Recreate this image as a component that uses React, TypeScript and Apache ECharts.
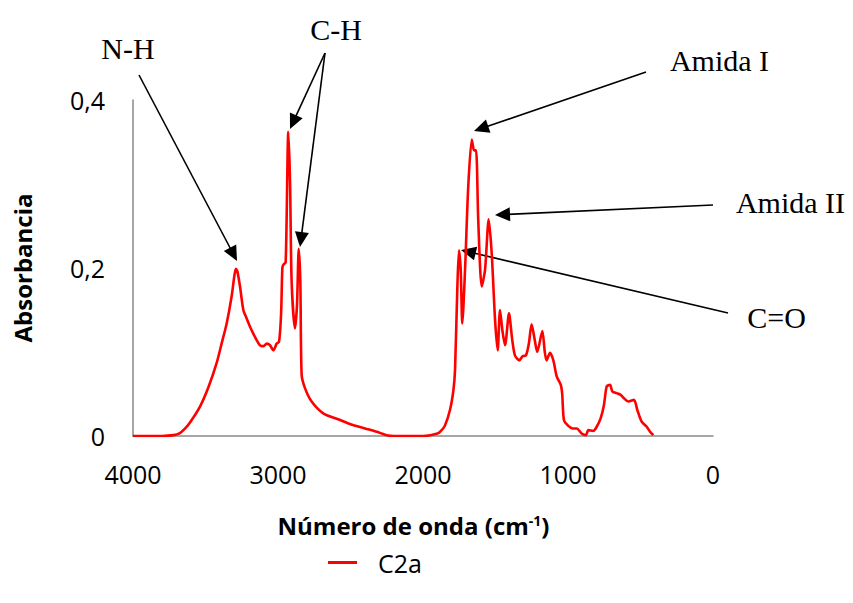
import React, { useEffect, useRef } from "react";
import * as echarts from "echarts";

const SERIES_NAME = "C2a";
const X_TITLE_MAIN = "Número de onda (cm";
const X_TITLE_SUP = "-1";
const Y_TITLE = "Absorbancia";

const WAVENUMBER = [
  4000, 3900, 3800, 3720, 3680, 3640, 3607, 3538, 3480, 3423, 3389, 3354, 3320, 3300, 3290, 3280, 3262,
  3239, 3216, 3193, 3159, 3124, 3100, 3078, 3055, 3032, 3009, 2993, 2979, 2970, 2963, 2947, 2929, 2917, 2906,
  2883, 2869, 2857, 2846, 2837, 2814, 2768, 2688, 2572, 2500, 2400, 2300, 2250, 2200, 2100, 2000, 1950, 1900,
  1883, 1850, 1814, 1790, 1779, 1763, 1752, 1740, 1729, 1710, 1688, 1664, 1655, 1648, 1634, 1619, 1595, 1572,
  1547, 1526, 1503, 1485, 1469, 1452, 1434, 1407, 1385, 1366, 1336, 1313, 1290, 1270, 1251, 1230, 1212, 1177,
  1160, 1148, 1124, 1101, 1078, 1050, 1040, 1028, 998, 968, 940, 906, 876, 860, 826, 802, 775, 752, 733, 710,
  694, 664, 637, 614, 584, 545, 522, 492, 457, 434, 411,
];

const ABSORBANCE = [
  0.0, 0.0, 0.0, 0.001, 0.003, 0.009, 0.016, 0.035, 0.058, 0.087, 0.11, 0.134, 0.166, 0.192, 0.199, 0.196, 0.178,
  0.15, 0.14, 0.13, 0.118, 0.108, 0.107, 0.11, 0.108, 0.102, 0.11, 0.112, 0.144, 0.2, 0.204, 0.207, 0.362, 0.303, 0.184,
  0.128, 0.156, 0.223, 0.184, 0.073, 0.057, 0.041, 0.027, 0.019, 0.014, 0.009, 0.004, 0.001, 0.0, 0.0, 0.0, 0.001, 0.003,
  0.005, 0.012, 0.031, 0.055, 0.079, 0.178, 0.221, 0.198, 0.134, 0.198, 0.297, 0.353, 0.345, 0.34, 0.34, 0.257, 0.178, 0.198,
  0.258, 0.217, 0.138, 0.102, 0.15, 0.125, 0.108, 0.146, 0.115, 0.096, 0.09, 0.095, 0.096, 0.11, 0.133, 0.115, 0.1, 0.125,
  0.1, 0.09, 0.099, 0.09, 0.071, 0.061, 0.05, 0.019, 0.012, 0.009, 0.009, 0.003, 0.001, 0.007, 0.006, 0.011, 0.021, 0.037, 0.059, 0.061,
  0.053, 0.051, 0.049, 0.045, 0.041, 0.043, 0.031, 0.017, 0.011, 0.005, 0.001,
];

// Annotation labels (text, centre position in px)
const ANNOTATIONS = [
  { text: "N-H", x: 128, y: 48.5 },
  { text: "C-H", x: 336, y: 29 },
  { text: "Amida I", x: 719.5, y: 60 },
  { text: "Amida II", x: 790.5, y: 202 },
  { text: "C=O", x: 776.5, y: 317 },
];

// Arrow segments [x1, y1, tipX, tipY] in px
const ARROWS = [
  [139, 75, 237, 261],
  [325, 53, 290, 129],
  [325, 53, 300, 247],
  [646, 72, 474, 131],
  [713, 205, 495, 215],
  [728, 313, 461, 250],
];

function arrowGraphics(a: number[]) {
  const [x1, y1, x2, y2] = a;
  const dx = x2 - x1;
  const dy = y2 - y1;
  const len = Math.sqrt(dx * dx + dy * dy);
  const ux = dx / len;
  const uy = dy / len;
  const headLen = 15;
  const headHalf = 7;
  const bx = x2 - ux * headLen;
  const by = y2 - uy * headLen;
  const nx = -uy;
  const ny = ux;
  return [
    {
      type: "line",
      shape: { x1, y1, x2: bx + ux * 2, y2: by + uy * 2 },
      style: { stroke: "#000", lineWidth: 1.6 },
      silent: true,
    },
    {
      type: "polygon",
      shape: {
        points: [
          [x2, y2],
          [bx + nx * headHalf, by + ny * headHalf],
          [bx - nx * headHalf, by - ny * headHalf],
        ],
      },
      style: { fill: "#000" },
      silent: true,
    },
  ];
}

export default function App() {
  const ref = useRef<HTMLDivElement>(null);

  useEffect(() => {
    if (!ref.current) return;
    const chart = echarts.init(ref.current, undefined, { renderer: "svg" });
    const data = WAVENUMBER.map((w, i) => [w, ABSORBANCE[i]]);
    const sans = "'Open Sans', 'Liberation Sans', sans-serif";
    const serif = "'Liberation Serif', 'DejaVu Serif', serif";

    const graphics: any[] = [];
    ARROWS.forEach((a) => graphics.push(...arrowGraphics(a)));
    ANNOTATIONS.forEach((t) =>
      graphics.push({
        type: "text",
        x: t.x,
        y: t.y,
        style: {
          text: t.text,
          font: `30px ${serif}`,
          fill: "#000",
          textAlign: "center",
          textVerticalAlign: "middle",
        },
        silent: true,
      })
    );

    chart.setOption({
      animation: false,
      backgroundColor: "#fff",
      grid: { left: 133, right: 140, top: 100, bottom: 167, containLabel: false },
      xAxis: {
        type: "value",
        inverse: true,
        min: 0,
        max: 4000,
        interval: 1000,
        axisLine: { show: true, onZero: false, lineStyle: { color: "#898989", width: 1.5 } },
        axisTick: { show: false },
        splitLine: { show: false },
        axisLabel: {
          color: "#000",
          fontFamily: sans,
          fontSize: 25,
          margin: 25,
          formatter: (v: number) => String(v),
        },
        name: `{b|${X_TITLE_MAIN}}{s|${X_TITLE_SUP}}{b|)}`,
        nameLocation: "middle",
        nameGap: 77,
        nameTextStyle: {
          padding: [0, 19, 0, 0],
          rich: {
            b: { fontFamily: sans, fontSize: 24, fontWeight: "bold", color: "#000" },
            s: { fontFamily: sans, fontSize: 14, fontWeight: "bold", color: "#000", verticalAlign: "top" },
          },
        },
      },
      yAxis: {
        type: "value",
        position: "left",
        min: 0,
        max: 0.4,
        interval: 0.2,
        axisLine: { show: true, onZero: false, lineStyle: { color: "#898989", width: 1.5 } },
        axisTick: { show: false },
        splitLine: { show: false },
        axisLabel: {
          color: "#000",
          fontFamily: sans,
          fontSize: 25,
          margin: 28,
          formatter: (v: number) => String(Math.round(v * 10) / 10).replace(".", ","),
        },
        name: Y_TITLE,
        nameLocation: "middle",
        nameGap: 99,
        nameTextStyle: { fontFamily: sans, fontSize: 24, fontWeight: "bold", color: "#000" },
      },
      legend: {
        left: 323,
        top: 545,
        icon: "rect",
        itemWidth: 29,
        itemHeight: 3,
        data: [SERIES_NAME],
        textStyle: { fontFamily: sans, fontSize: 25, color: "#000", padding: [0, 0, 0, 16] },
      },
      series: [
        {
          name: SERIES_NAME,
          type: "line",
          data,
          showSymbol: false,
          smooth: 0.25,
          lineStyle: { color: "#ff0000", width: 2.6 },
          itemStyle: { color: "#ff0000" },
        },
      ],
      graphic: graphics,
    });

    return () => chart.dispose();
  }, []);

  return <div ref={ref} style={{ width: 853, height: 603, margin: -8 }} />;
}
